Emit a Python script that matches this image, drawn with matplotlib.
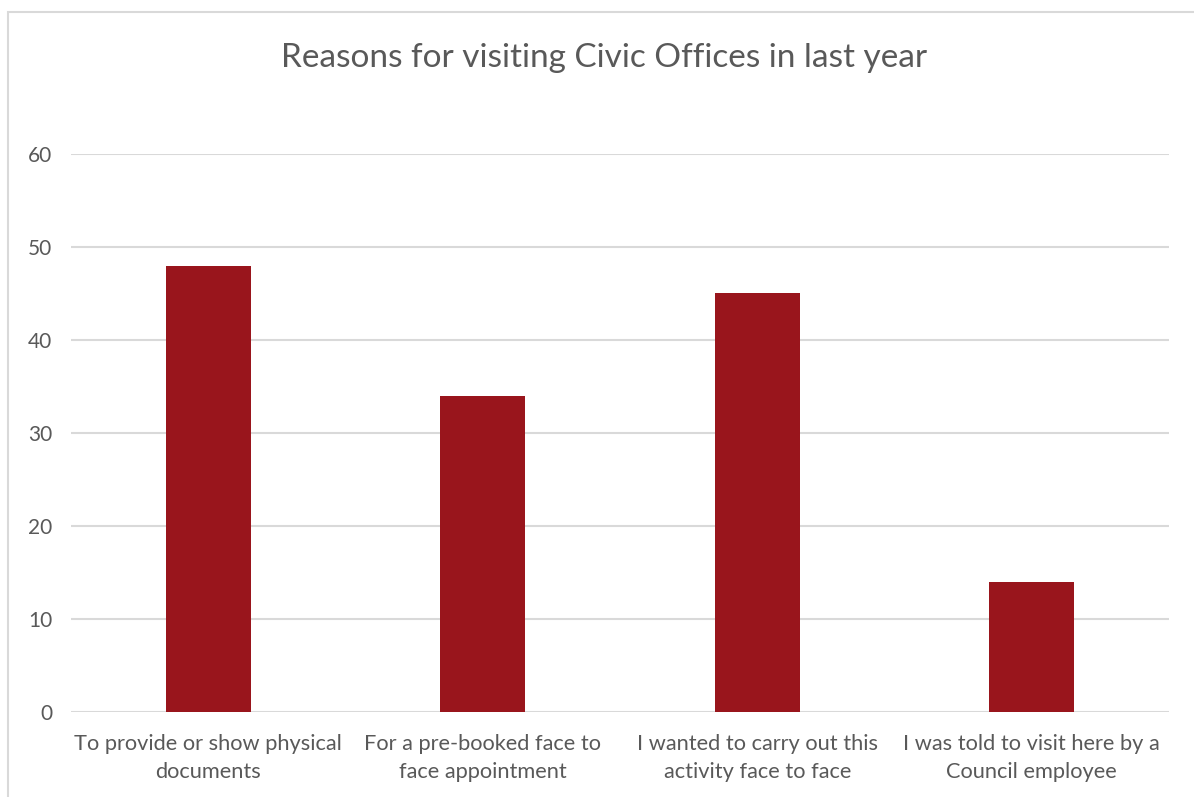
import matplotlib
matplotlib.use("Agg")
import matplotlib.pyplot as plt
from matplotlib.patches import Rectangle

categories = [
    "To provide or show physical\ndocuments",
    "For a pre-booked face to\nface appointment",
    "I wanted to carry out this\nactivity face to face",
    "I was told to visit here by a\nCouncil employee",
]
values = [48, 34, 45, 14]
yticks = [0, 10, 20, 30, 40, 50, 60]
title = "Reasons for visiting Civic Offices in last year"

text_color = "#595959"
grid_color = "#D9D9D9"
bar_color = "#99151C"

plt.rcParams["font.family"] = ["Lato", "DejaVu Sans"]

fig = plt.figure(figsize=(11.94, 7.97), dpi=100)
fig.patch.set_facecolor("white")

# chart frame (left and top edges visible)
fig.patches.append(Rectangle((8 / 1194, -0.1), 1.2, 1 - 12 / 797 + 0.1,
                             transform=fig.transFigure, fill=False,
                             edgecolor="#D9D9D9", linewidth=1.5))

ax = fig.add_axes([71 / 1194, 1 - 712 / 797, (1169 - 71) / 1194, (712 - 154) / 797])
x = range(len(values))
ax.bar(x, values, width=0.31, color=bar_color, zorder=3)
ax.set_xlim(-0.5, len(values) - 0.5)
ax.set_ylim(0, 60)
ax.set_yticks(yticks)
ax.set_xticks(list(x))
ax.set_xticklabels(categories, linespacing=1.5)
ax.yaxis.grid(True, color=grid_color, linewidth=1.5, zorder=0)
ax.set_axisbelow(True)
for s in ax.spines.values():
    s.set_visible(False)
ax.tick_params(axis="y", length=0, pad=13.5, labelsize=15, labelcolor=text_color)
ax.tick_params(axis="x", length=0, pad=16, labelsize=15.7, labelcolor=text_color)

fig.text(0.506, 1 - 58 / 797, title, ha="center", va="center",
         fontsize=24, color=text_color)

fig.savefig("out.png", dpi=100)
